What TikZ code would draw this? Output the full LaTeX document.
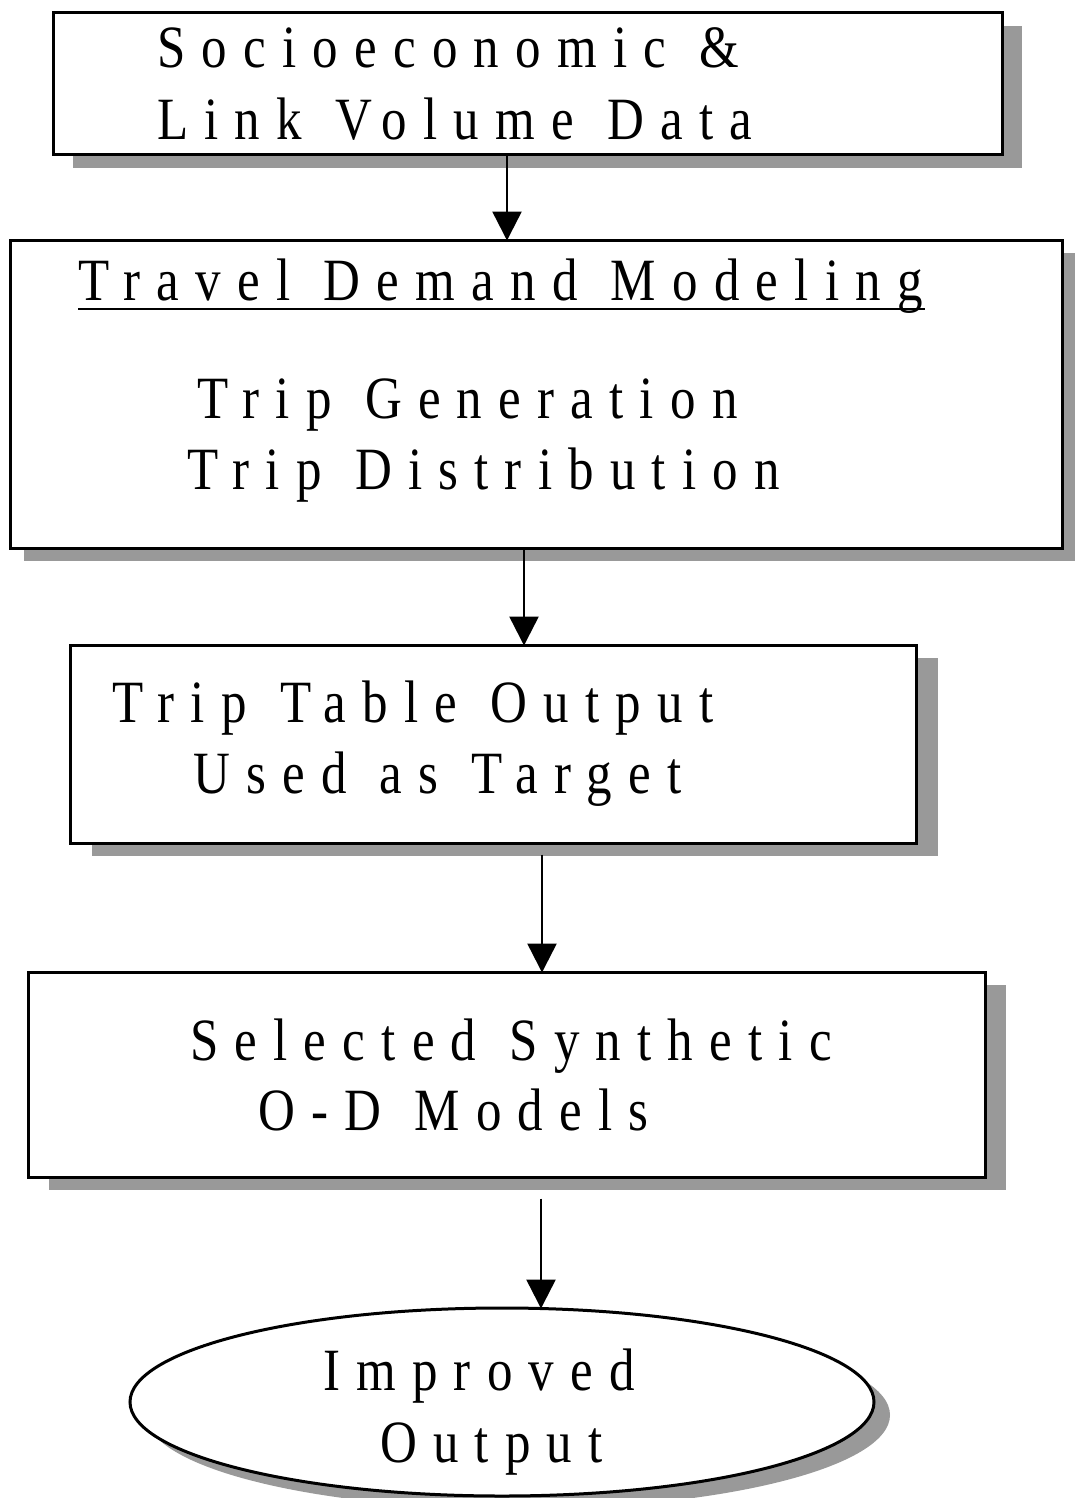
\documentclass[tikz,border=0pt]{standalone}
\usepackage{fontspec}
\setmainfont{Liberation Serif}
\newfontfamily\spacedfont{Liberation Serif}[FakeStretch=0.85,LetterSpace=27,WordSpace=1.15]
\usetikzlibrary{arrows.meta,shapes.geometric,shadows}
\tikzset{
  box/.style={draw=black, line width=3pt, fill=white, rectangle},
  shad/.style={drop shadow={shadow xshift=#1, shadow yshift=-13pt, fill=black!40, opacity=1}},
  lbl/.style={anchor=base west, inner sep=0pt, font=\spacedfont\fontsize{60}{60}\selectfont},
  conn/.style={line width=2.5pt, -{Triangle[width=29pt,length=29pt]}, shorten >=-2pt},
}
\begin{document}
\begin{tikzpicture}[x=1pt,y=-1pt]
\useasboundingbox (0,0) rectangle (1075,1498);
\fill[white] (0,0) rectangle (1075,1498);
% boxes
\node[box, shad=20pt, minimum width=949pt, minimum height=142pt] (b1) at (527.5,84) {};
\node[box, shad=14pt, minimum width=1052pt, minimum height=308pt] (b2) at (536,394) {};
\node[box, shad=22pt, minimum width=846pt, minimum height=198pt] (b3) at (493,744) {};
\node[box, shad=21pt, minimum width=957pt, minimum height=205pt] (b4) at (506.5,1074.5) {};
\node[box, ellipse, shad=16pt, minimum width=744pt, minimum height=188pt] (b5) at (502,1402) {};
% texts
\node[lbl] (t1a) at (157,68) {Socioeconomic \&};
\node[lbl] (t1b) at (157,140) {Link Volume Data};
\node[lbl] (t2a) at (78,300) {Travel Demand Modeling};
\draw[line width=2.5pt] (78,309) -- (925,309);
\node[lbl] (t2b) at (197,418) {Trip Generation};
\node[lbl] (t2c) at (187,489) {Trip Distribution};
\node[lbl] (t3a) at (112,722) {Trip Table Output};
\node[lbl] (t3b) at (193,793) {Used as Target};
\node[lbl] (t4a) at (190,1060) {Selected Synthetic};
\node[lbl] (t4b) at (258,1130) {O-D Models};
\node[lbl] (t5a) at (323,1390) {Improved};
\node[lbl] (t5b) at (380,1462) {Output};
% connectors
\draw[conn] (b1.south -| 507,0) -- (b2.north -| 507,0);
\draw[conn] (b2.south -| 524,0) -- (b3.north -| 524,0);
\draw[conn] ([yshift=-10pt]b3.south -| 542,0) -- (b4.north -| 542,0);
\draw[conn] ([yshift=-20pt]b4.south -| 541,0) -- (b5.north -| 541,0);
\end{tikzpicture}
\end{document}
